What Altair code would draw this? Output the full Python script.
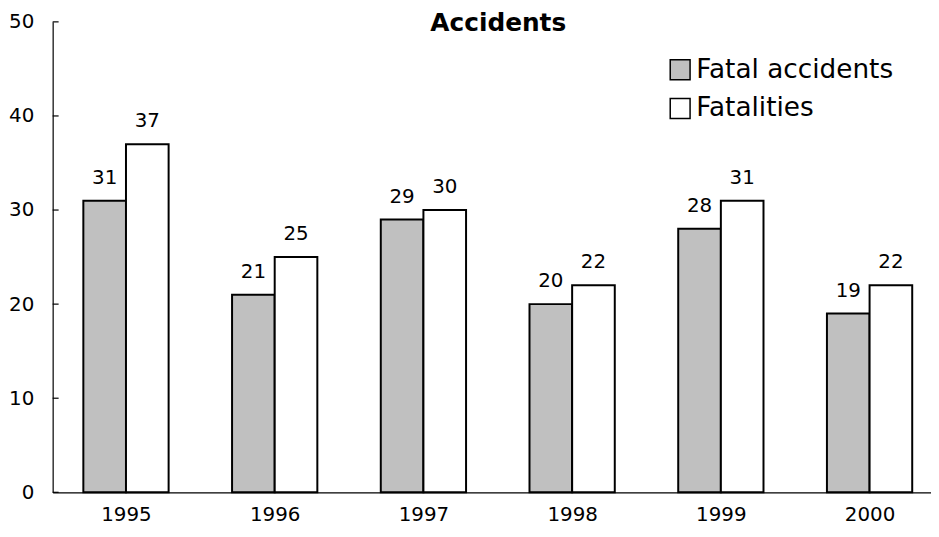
import altair as alt
import pandas as pd

years = [1995, 1996, 1997, 1998, 1999, 2000]
fatal_accidents = [31, 21, 29, 20, 28, 19]
fatalities = [37, 25, 30, 22, 31, 22]
series_names = ["Fatal accidents", "Fatalities"]
series_colors = ["#c0c0c0", "#ffffff"]
y_ticks = [0, 10, 20, 30, 40, 50]
chart_title = "Accidents"

rows = []
for i, yr in enumerate(years):
    rows.append({"year": yr, "series": series_names[0], "value": fatal_accidents[i]})
    rows.append({"year": yr, "series": series_names[1], "value": fatalities[i]})
df = pd.DataFrame(rows)

HALF = 0.2867
FONT = "DejaVu Sans"

xscale = alt.Scale(domain=[1994.507, 2000.413], nice=False, zero=False)
yscale = alt.Scale(domain=[0, 50], nice=False, zero=True)

y_axis = alt.Axis(values=y_ticks, ticks=False, grid=False, title=None,
                  labelPadding=19, labelFontSize=20, labelColor="black",
                  domainColor="black", domainWidth=1.2, labelFont=FONT)

base = alt.Chart(df).transform_calculate(
    x0=f"datum.series == '{series_names[0]}' ? datum.year - {HALF} : datum.year",
    x1=f"datum.series == '{series_names[0]}' ? datum.year : datum.year + {HALF}",
).transform_calculate(
    xm="(datum.x0 + datum.x1) / 2"
)

bars = base.mark_rect(stroke="black", strokeWidth=2).encode(
    x=alt.X("x0:Q", scale=xscale,
            axis=alt.Axis(values=years, format="d", ticks=False, grid=False, title=None,
                          labelPadding=12, labelFontSize=20, labelColor="black",
                          domainColor="black", domainWidth=1.2, labelFont=FONT)),
    x2="x1:Q",
    y=alt.Y("value:Q", scale=yscale, axis=y_axis),
    y2=alt.Y2(datum=0),
    fill=alt.Fill("series:N", scale=alt.Scale(domain=series_names, range=series_colors),
                  legend=alt.Legend(title=None, orient="none", legendX=619, legendY=35,
                                    symbolType="square", symbolSize=400,
                                    symbolStrokeColor="black", symbolStrokeWidth=1.5,
                                    labelFontSize=26.5, labelFont=FONT, labelColor="black",
                                    labelOffset=3, rowPadding=12, labelLimit=400)),
)

labels = base.mark_text(baseline="alphabetic", dy=-17, fontSize=20, font=FONT, color="black").encode(
    x=alt.X("xm:Q", scale=xscale),
    y=alt.Y("value:Q", scale=yscale, axis=y_axis),
    text=alt.Text("value:Q"),
)

tick_df = pd.DataFrame({"t": y_ticks})
ticks = alt.Chart(tick_df).mark_rule(color="black", strokeWidth=1.2).encode(
    y=alt.Y("t:Q", scale=yscale, axis=y_axis),
    x=alt.value(0),
    x2=alt.value(6),
)

title_df = pd.DataFrame({"title": [chart_title]})
title = alt.Chart(title_df).mark_text(
    baseline="top", align="center", fontSize=25, fontWeight="bold", font=FONT, color="black"
).encode(
    text="title:N",
    x=alt.value(449),
    y=alt.value(-11),
)

chart = alt.layer(bars, labels, ticks, title).properties(
    width=885,
    height=474,
    autosize=alt.AutoSizeParams(type="none"),
    padding={"left": 45, "top": 12, "right": 0, "bottom": 35},
).configure_view(stroke=None)

chart.save("out.html", embed_options={"renderer": "svg", "actions": False})
